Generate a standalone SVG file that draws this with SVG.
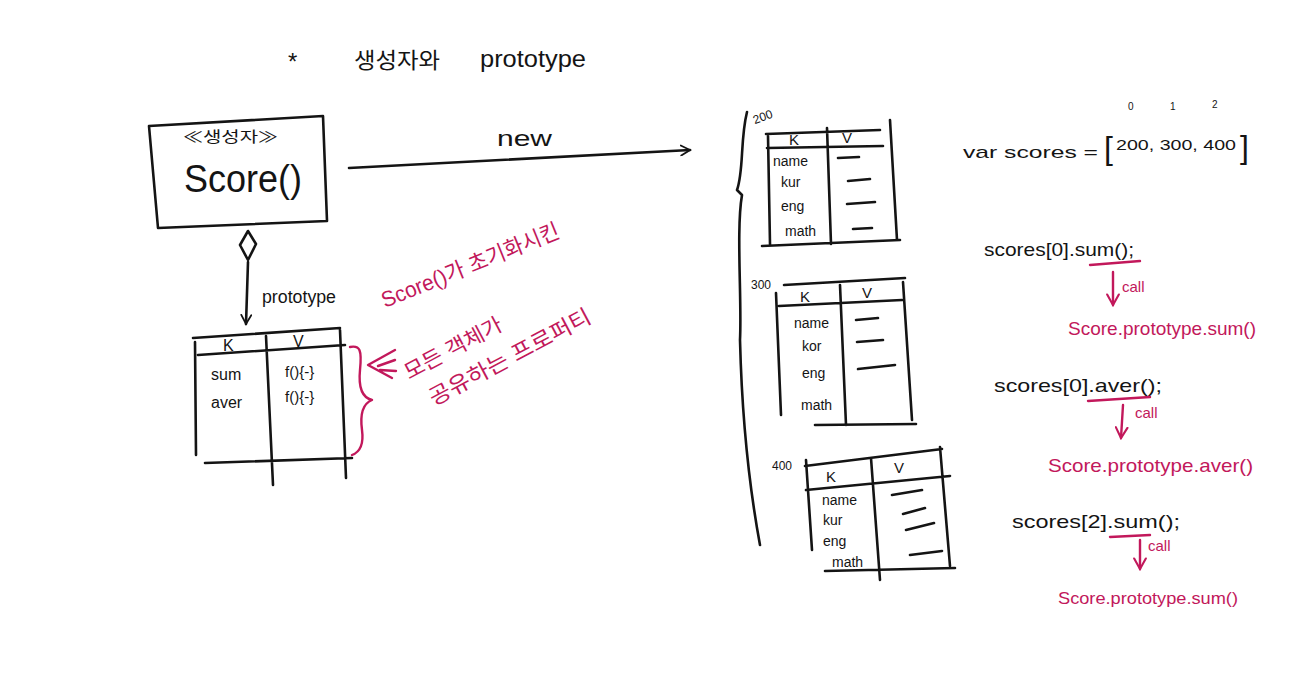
<svg xmlns="http://www.w3.org/2000/svg" width="1303" height="697" viewBox="0 0 1303 697">
<defs>
<style>
.ln{fill:none;stroke:#141414;stroke-width:2.6;stroke-linecap:round;stroke-linejoin:round}
.pk{fill:none;stroke:#c2185b;stroke-width:2.4;stroke-linecap:round;stroke-linejoin:round}
.t{font-family:"Liberation Sans","Noto Sans CJK KR",sans-serif;fill:#141414}
.tp{font-family:"Liberation Sans","Noto Sans CJK KR",sans-serif;fill:#c2185b}
.k{font-family:"Noto Sans CJK KR","Liberation Sans",sans-serif}
</style>
<marker id="ah" viewBox="0 0 12 12" refX="10" refY="6" markerWidth="12" markerHeight="12" markerUnits="userSpaceOnUse" orient="auto">
<path d="M1,1 L10,6 L1,11" fill="none" stroke="#141414" stroke-width="1.8" stroke-linecap="round"/>
</marker>
<marker id="ahp" viewBox="0 0 12 12" refX="10" refY="6" markerWidth="14" markerHeight="14" markerUnits="userSpaceOnUse" orient="auto">
<path d="M1,1 L10,6 L1,11" fill="none" stroke="#c2185b" stroke-width="1.8" stroke-linecap="round"/>
</marker>
</defs>
<rect width="1303" height="697" fill="#ffffff"/>

<g id="title">
<text class="t" x="288" y="70" font-size="24">*</text>
<text class="t k" x="354" y="68" font-size="22" textLength="86" lengthAdjust="spacingAndGlyphs">생성자와</text>
<text class="t" x="480" y="67" font-size="24" textLength="106" lengthAdjust="spacingAndGlyphs">prototype</text>
</g>

<g id="score-ctor">
<path class="ln" d="M149,126 L323,116 L327,221 L158,228 Z"/>
<text class="t k" x="183" y="142" font-size="15" textLength="95" lengthAdjust="spacingAndGlyphs">≪생성자≫</text>
<text class="t" x="184" y="192" font-size="38" textLength="118" lengthAdjust="spacingAndGlyphs">Score()</text>
</g>

<g id="prototype-table">
<path class="ln" d="M193,338 L340,328 M198,355 L345,345 M195,342 L196,455 M266,336 L273,485 M340,330 L346,478 M205,463 L352,458"/>
<text class="t" x="223" y="351" font-size="16">K</text>
<text class="t" x="293" y="347" font-size="16">V</text>
<text class="t" x="211" y="380" font-size="16">sum</text>
<text class="t" x="211" y="408" font-size="16">aver</text>
<text class="t" x="285" y="377" font-size="15">f(){-}</text>
<text class="t" x="285" y="402" font-size="15">f(){-}</text>
</g>

<g id="obj-200">
<path class="ln" d="M766,134 L880,130 M767,148 L883,146 M768,136 L770,244 M827,128 L831,244 M890,120 L897,240 M762,246 L900,240"/>
<text class="t" x="753" y="122" font-size="12" transform="rotate(-20 760 118)">200</text>
<text class="t" x="789" y="145" font-size="15">K</text>
<text class="t" x="842" y="143" font-size="15">V</text>
<text class="t" x="773" y="166" font-size="14">name</text>
<text class="t" x="781" y="187" font-size="14">kur</text>
<text class="t" x="781" y="211" font-size="14">eng</text>
<text class="t" x="785" y="236" font-size="14">math</text>
<path class="ln" d="M838,158 L859,157 M848,181 L870,179 M847,204 L875,202 M853,229 L872,228"/>
</g>

<g id="obj-300">
<path class="ln" d="M784,285 L905,278 M779,306 L902,300 M776,293 L781,415 M840,285 L846,425 M903,282 L912,420 M815,425 L916,424"/>
<text class="t" x="751" y="289" font-size="12">300</text>
<text class="t" x="800" y="302" font-size="15">K</text>
<text class="t" x="862" y="298" font-size="15">V</text>
<text class="t" x="794" y="328" font-size="14">name</text>
<text class="t" x="802" y="351" font-size="14">kor</text>
<text class="t" x="802" y="378" font-size="14">eng</text>
<text class="t" x="801" y="410" font-size="14">math</text>
<path class="ln" d="M856,320 L878,318 M857,342 L883,340 M858,369 L895,365"/>
</g>

<g id="obj-400">
<path class="ln" d="M805,466 L942,449 M806,490 L950,476 M806,460 L812,550 M871,458 L880,580 M940,447 L950,566 M825,571 L955,568"/>
<text class="t" x="772" y="470" font-size="12">400</text>
<text class="t" x="826" y="482" font-size="15">K</text>
<text class="t" x="894" y="473" font-size="15">V</text>
<text class="t" x="822" y="505" font-size="14">name</text>
<text class="t" x="823" y="525" font-size="14">kur</text>
<text class="t" x="823" y="546" font-size="14">eng</text>
<text class="t" x="832" y="567" font-size="14">math</text>
<path class="ln" d="M892,495 L922,490 M903,514 L925,508 M906,530 L934,523 M910,555 L942,551"/>
</g>

<g id="note">
<text class="tp" x="385" y="308" font-size="22" textLength="190" lengthAdjust="spacingAndGlyphs" transform="rotate(-22 385 308)">Score()가 초기화시킨</text>
<text class="tp" x="409" y="380" font-size="21" textLength="108" lengthAdjust="spacingAndGlyphs" transform="rotate(-28 409 380)">모든 객체가</text>
<text class="tp" x="434" y="406" font-size="22" textLength="180" lengthAdjust="spacingAndGlyphs" transform="rotate(-28 434 406)">공유하는 프로퍼티</text>
</g>

<g id="code">
<text class="t" x="1128" y="110" font-size="10">0</text>
<text class="t" x="1170" y="110" font-size="10">1</text>
<text class="t" x="1212" y="108" font-size="10">2</text>
<text class="t" x="963" y="158" font-size="17" textLength="135" lengthAdjust="spacingAndGlyphs">var scores =</text>
<text class="t" x="1104" y="159" font-size="32">[</text>
<text class="t" x="1116" y="150" font-size="15" textLength="120" lengthAdjust="spacingAndGlyphs">200, 300, 400</text>
<text class="t" x="1240" y="158" font-size="32">]</text>

<text class="t" x="984" y="256" font-size="19" textLength="150" lengthAdjust="spacingAndGlyphs">scores[0].sum();</text>
<text class="tp" x="1068" y="335" font-size="19" textLength="188" lengthAdjust="spacingAndGlyphs">Score.prototype.sum()</text>

<text class="t" x="994" y="392" font-size="19" textLength="168" lengthAdjust="spacingAndGlyphs">scores[0].aver();</text>
<text class="tp" x="1048" y="472" font-size="19" textLength="205" lengthAdjust="spacingAndGlyphs">Score.prototype.aver()</text>

<text class="t" x="1012" y="528" font-size="19" textLength="168" lengthAdjust="spacingAndGlyphs">scores[2].sum();</text>
<text class="tp" x="1058" y="604" font-size="17" textLength="180" lengthAdjust="spacingAndGlyphs">Score.prototype.sum()</text>

<text class="tp" x="1122" y="292" font-size="15">call</text>
<text class="tp" x="1135" y="418" font-size="15">call</text>
<text class="tp" x="1148" y="551" font-size="15">call</text>
</g>

<g id="connectors">
<path class="ln" d="M349,168 L690,150" marker-end="url(#ah)"/>
<text class="t" x="497" y="146" font-size="22" textLength="55" lengthAdjust="spacingAndGlyphs">new</text>
<path class="ln" d="M248,231 L256,244 L248,260 L240,245 Z"/>
<path class="ln" d="M248,262 L246,324" marker-end="url(#ah)"/>
<text class="t" x="262" y="303" font-size="18" textLength="74" lengthAdjust="spacingAndGlyphs">prototype</text>
<path class="ln" d="M747,112 C740,140 744,170 737,190 L742,195 C736,230 742,300 740,340 C742,420 748,480 760,545"/>
<path class="pk" d="M350,347 C360,345 362,350 360,370 C358,390 364,398 372,400 C362,404 360,415 362,430 C364,445 360,452 352,455"/>
<path class="pk" d="M395,350 L368,365 L392,378 M395,360 L378,366 M396,371 L380,370"/>
<path class="pk" d="M1090,265 L1140,261"/>
<path class="pk" d="M1113,272 L1113,305" marker-end="url(#ahp)"/>
<path class="pk" d="M1088,401 L1150,397"/>
<path class="pk" d="M1123,405 L1121,438" marker-end="url(#ahp)"/>
<path class="pk" d="M1110,537 L1150,535"/>
<path class="pk" d="M1140,540 L1140,569" marker-end="url(#ahp)"/>
</g>
</svg>
